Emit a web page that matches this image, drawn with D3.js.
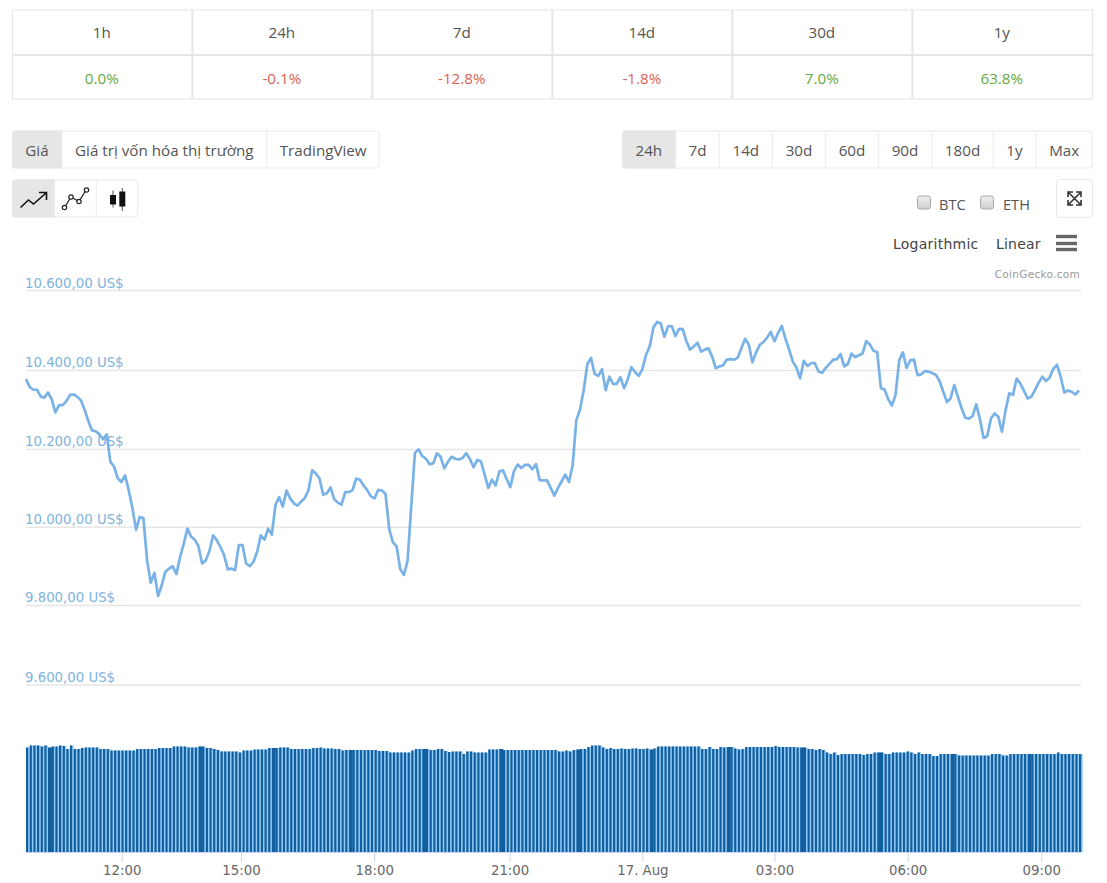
<!DOCTYPE html>
<html><head><meta charset="utf-8">
<script src="https://cdn.jsdelivr.net/npm/d3@7/dist/d3.min.js"></script>
<style>html,body{margin:0;padding:0;background:#fff;overflow:hidden}svg{display:block}</style>
</head><body><svg id="c" width="1107" height="883"></svg>
<script>
const periods=["1h","24h","7d","14d","30d","1y"];
const changes=["0.0%","-0.1%","-12.8%","-1.8%","7.0%","63.8%"];
const viewTabs=["Giá","Giá trị vốn hóa thị trường","TradingView"];
const rangeTabs=["24h","7d","14d","30d","60d","90d","180d","1y","Max"];
const priceTicks=[10600,10400,10200,10000,9800,9600];
const timeLabels=["12:00","15:00","18:00","21:00","17. Aug","03:00","06:00","09:00"];
const timeTickIndex=[26.1,58.6,94.9,131.8,168,204,240.3,276.7];
const price=[10377,10357,10350,10350,10333,10330,10343,10326,10293,10311,10311,10321,10337,10338,10332,10323,10299,10270,10247,10245,10237,10225,10237,10167,10155,10125,10115,10132,10094,10048,
9992,10025,10022,9914,9857,9882,9823,9851,9885,9893,9899,9879,9923,9957,9995,9975,9967,9950,9906,9914,9938,9978,9965,9948,9927,9891,9893,9889,9953,9953,9906,9899,9910,9936,9978,9967,9995,9980,
10056,10076,10052,10093,10073,10060,10054,10065,10074,10094,10145,10137,10124,10082,10086,10101,10071,10062,10057,10089,10089,10094,10124,
10121,10106,10094,10078,10073,10095,10093,10084,9994,9960,9950,9892,9877,9913,10053,10190,10199,10182,10175,10161,10163,10189,10180,10150,10167,10180,10175,10173,10177,10189,10174,10153,10172,10168,10134,10100,10121,10106,10142,10145,10123,10102,10143,10160,10151,10159,10159,10148,10161,10120,10119,10119,10100,10080,10100,10117,10134,10115,10159,10273,10300,10349,10415,10430,10390,10385,10402,10349,10383,10365,10365,10382,10354,10376,10407,10395,10385,10402,10438,10459,10506,10520,10516,10483,10509,10510,10485,10503,10502,10472,10451,10459,10468,10446,10451,10454,10434,10404,10409,
10412,10426,10427,10426,10431,10455,10478,10464,10419,10444,10463,10470,10481,10495,10472,10493,10510,10478,10451,10421,10406,10379,10423,10410,10417,10417,10396,10393,10406,10415,10426,10427,10440,10409,10415,10441,10432,10437,10441,10472,10464,10448,10445,10354,10351,10326,10310,10337,10424,10444,10405,10424,10426,10387,10389,10397,10396,10392,10388,10372,10345,10319,10328,10362,10332,10303,10279,10277,10283,10313,10275,10228,10233,10277,10290,10282,10244,10299,10341,10337,10378,10366,10347,10328,10332,10349,10368,10383,10372,10381,10403,10413,10383,10343,10348,10345,10338,10348];
const volume=[20.9,21.3,21.3,21.3,21.1,21.3,20.9,21.1,21.1,21.3,21.2,20.6,21.3,20.6,20.6,20.8,20.9,20.9,20.9,20.9,20.6,20.6,20.6,20.3,20.3,20.3,20.3,20.3,20.3,20.3,
20.6,20.6,20.6,20.6,20.6,20.6,20.8,20.8,20.8,20.8,21.1,21.1,21.1,21.1,20.9,20.9,20.9,21.1,21.1,20.8,20.8,20.6,20.4,20.1,20.1,20.1,20.1,20.1,19.9,20.3,
20.3,20.3,20.5,20.5,20.5,20.5,20.8,20.8,20.8,20.9,20.9,20.9,20.6,20.6,20.6,20.6,20.6,20.6,20.8,20.8,20.9,20.7,20.7,20.7,20.6,20.6,20.3,20.4,20.4,20.4,
20.4,20.4,20.4,20.4,20.4,20.4,20.2,20.2,20.2,19.9,19.9,19.9,19.9,19.9,19.9,20.3,20.6,20.6,20.6,20.6,20.4,20.4,20.6,20.6,20.2,20.0,20.1,20.1,20.1,19.6,
20.1,20.1,19.9,19.9,19.9,19.9,20.5,20.5,20.5,20.6,20.4,20.4,20.4,20.4,20.4,20.4,20.4,20.4,20.4,20.4,20.4,20.4,20.4,20.4,20.4,20.1,20.1,20.3,20.1,20.4,
20.5,20.6,20.6,21.0,21.3,21.3,21.3,20.9,20.6,20.8,20.6,20.6,20.7,20.6,20.6,20.7,20.7,20.6,20.6,20.7,20.5,20.7,21.1,21.1,21.1,21.1,21.1,21.1,21.1,21.1,
21.1,21.1,21.1,21.1,20.6,20.6,21.0,20.6,20.6,21.0,20.9,21.0,21.0,20.7,20.5,20.6,21.0,21.0,21.0,21.0,21.0,21.0,21.0,21.0,21.2,21.0,21.0,21.0,21.0,21.0,
20.9,20.9,20.9,20.6,20.6,20.4,20.6,20.4,19.9,19.6,19.9,19.4,19.6,19.6,19.6,19.6,19.6,19.6,19.4,19.6,19.6,19.9,19.9,19.9,19.6,19.6,19.9,19.9,19.9,19.9,
20.1,19.9,19.6,19.9,19.6,19.6,19.6,19.2,19.2,19.6,19.6,19.6,19.6,19.6,19.3,19.3,19.3,19.3,19.3,19.3,19.3,19.3,19.3,19.6,19.6,19.6,19.3,19.3,19.6,19.6,
19.6,19.6,19.6,19.6,19.6,19.6,19.6,19.6,19.6,19.6,19.6,19.9,19.6,19.6,19.6,19.6,19.6,19.6];
const wideBars=[6,47,67,88,108,129,150,170,191,211,232,252,273];

const svg=d3.select("#c");
const F='"Open Sans",sans-serif',D='"DejaVu Sans",sans-serif';
const txt=(x,y,s,o={})=>svg.append("text").attr("x",x).attr("y",y).text(s)
  .attr("font-family",o.f||F).attr("font-size",o.s||15.2).attr("fill",o.c||"#555")
  .attr("text-anchor",o.a||"middle").attr("letter-spacing",o.ls||null);
const line=(x1,y1,x2,y2,c,w)=>svg.append("line").attr("x1",x1).attr("y1",y1).attr("x2",x2).attr("y2",y2).attr("stroke",c).attr("stroke-width",w||1);

// stats table
const tableC=d3.scaleLinear().domain([0,6]).range([12.3,1092.3]);
svg.append("rect").attr("x",12.5).attr("y",10).attr("width",1080).attr("height",89).attr("fill","#fff").attr("stroke","#e3e5e7");
line(12.5,55,1092.5,55,"#e3e5e7",2);
periods.forEach((p,i)=>{
  if(i>0) line(tableC(i),10,tableC(i),99,"#e3e5e7",2);
  const cx=(tableC(i)+tableC(i+1))/2-.5;
  txt(cx,37.5,p,{c:"#555"});
  txt(cx,84,changes[i],{c:changes[i][0]==="-"?"#dd5f57":"#66a93f"});
});

function tabs(labels,edges,y0,y1){
  const x0=edges[0],x1=edges[edges.length-1];
  svg.append("rect").attr("x",x0+.5).attr("y",y0+.5).attr("width",x1-x0-1).attr("height",y1-y0-1).attr("rx",3).attr("fill","#fff").attr("stroke","#e9e9e9");
  svg.append("path").attr("fill","#e6e6e6").attr("d",`M${x0+3},${y0}H${edges[1]}V${y1}H${x0+3}Q${x0},${y1} ${x0},${y1-3}V${y0+3}Q${x0},${y0} ${x0+3},${y0}Z`);
  edges.slice(1,-1).forEach(e=>line(e,y0,e,y1,"#ececec"));
  labels.forEach((t,i)=>{ if(t) txt((edges[i]+edges[i+1])/2,y1-12.5,t,{c:"#555"}); });
}
tabs(viewTabs,[12,62,266.7,379.7],130.5,168.5);
tabs(rangeTabs,[622,675.7,719.3,772.3,825.7,878.3,931.7,993.3,1035.7,1092.7],130.5,168.5);
tabs(["","",""],[12,54.7,96.3,138.3],179.5,217.5);

// icon buttons
svg.append("path").attr("fill","none").attr("stroke","#111").attr("stroke-width",1.6)
  .attr("d","M20.5,207.5L28.5,200L33.5,204L46,193M39,192.5H46.5V200");
svg.append("path").attr("fill","none").attr("stroke","#222").attr("stroke-width",1.3).attr("d","M64.5,207.5L71,197M71,197L79,201.5M79,201.5L86,190");
[[64.5,207.5],[71,197],[79,201.5],[86.5,190]].forEach(d=>svg.append("circle").attr("cx",d[0]).attr("cy",d[1]).attr("r",2.2).attr("fill","#fff").attr("stroke","#222").attr("stroke-width",1.2));
line(113,190.5,113,207.5,"#555",1);line(122.3,188,122.3,211,"#555",1);
svg.append("rect").attr("x",110).attr("y",195).attr("width",6).attr("height",9.5).attr("fill","#111");
svg.append("rect").attr("x",119.3).attr("y",191.5).attr("width",6).attr("height",15).attr("fill","#111");

// checkboxes
const grad=svg.append("defs").append("linearGradient").attr("id","cb").attr("x1",0).attr("x2",0).attr("y1",0).attr("y2",1);
grad.append("stop").attr("offset",0).attr("stop-color","#eeeeee");
grad.append("stop").attr("offset",1).attr("stop-color","#cfcfcf");
[917.5,980.5].forEach(x=>svg.append("rect").attr("x",x).attr("y",196).attr("width",13).attr("height",13).attr("rx",2.5).attr("fill","url(#cb)").attr("stroke","#aaa"));
txt(939,210,"BTC",{a:"start",s:14.6,c:"#555"});
txt(1003,210,"ETH",{a:"start",s:14.6,c:"#555"});

// expand button
svg.append("rect").attr("x",1056.5).attr("y",179.5).attr("width",36).attr("height",38).attr("rx",3).attr("fill","#fff").attr("stroke","#e9e9e9");
svg.append("path").attr("fill","none").attr("stroke","#333").attr("stroke-width",1.6)
  .attr("d","M1069,193L1080,204M1080,193L1069,204M1068,197V192H1073M1076,192H1081V197M1068,200V205H1073M1076,205H1081V200");

txt(893,249,"Logarithmic",{a:"start",f:D,s:14,c:"#444",ls:".25"});
txt(996,249,"Linear",{a:"start",f:D,s:14,c:"#444",ls:".2"});
[236.5,243.5,249.5].forEach(y=>line(1056,y,1077,y,"#666",3.4));
txt(1080,278,"CoinGecko.com",{a:"end",f:D,s:10.5,c:"#999",ls:".3"});

// scales
const x=d3.scaleLinear().domain([0,price.length-1]).range([26,1079]);
const y=d3.scaleLinear().domain([9600,9800,10000,10200,10400,10600]).range([684.5,605,526.7,449,370,290]);
const vBase=852,vTop=745;
const yV=d3.scaleLinear().domain([0,21.4]).range([vBase,vTop]);
const loc=d3.formatLocale({decimal:",",thousands:".",grouping:[3],currency:["",""]});
const fmt=v=>loc.format(",.2f")(v)+" US$";

// y axis grid and labels
const gy=svg.append("g").attr("transform","translate(26,0)")
  .call(d3.axisRight(y).tickValues(priceTicks).tickFormat(fmt).tickSize(1055));
gy.select(".domain").remove();
gy.selectAll(".tick line").attr("stroke","#e6e6e6").attr("stroke-width",1.4);
gy.selectAll(".tick text").attr("x",-1).attr("dy",0).attr("y",(d,i)=>i===0?-2.3:-3.3).attr("text-anchor","start")
  .attr("font-family",D).attr("font-size",13.3).attr("fill","#7db4de");

// volume bars
const step=x(1)-x(0);
svg.append("g").selectAll("rect").data(volume).join("rect")
  .attr("x",(d,i)=>x(i)).attr("y",d=>yV(d)).attr("width",step).attr("height",d=>vBase-yV(d)).attr("fill","#93caf5");
svg.append("g").selectAll("rect").data(volume).join("rect")
  .attr("x",(d,i)=>x(i)).attr("y",d=>yV(d)).attr("width",(d,i)=>wideBars.includes(i)?step+.2:2.2)
  .attr("height",d=>vBase-yV(d)).attr("fill","#115f9e");

// x axis
const gx=svg.append("g").attr("transform",`translate(0,${vBase})`)
  .call(d3.axisBottom(x).tickValues(timeTickIndex).tickFormat((d,i)=>timeLabels[i]).tickSize(10).tickPadding(8).tickSizeOuter(0));
gx.select(".domain").attr("stroke","#ccd6eb").attr("d","M26,0.5H1081");
gx.selectAll(".tick line").attr("stroke","#ccd6eb");
gx.selectAll(".tick text").attr("font-family",D).attr("font-size",13.3).attr("fill","#666").attr("dy",0).attr("y",23);

// price line
svg.append("path").datum(price).attr("fill","none").attr("stroke","#78b2e6").attr("stroke-width",2.7).attr("stroke-linejoin","round")
  .attr("d",d3.line().x((d,i)=>x(i)).y(d=>y(d)));
</script></body></html>
